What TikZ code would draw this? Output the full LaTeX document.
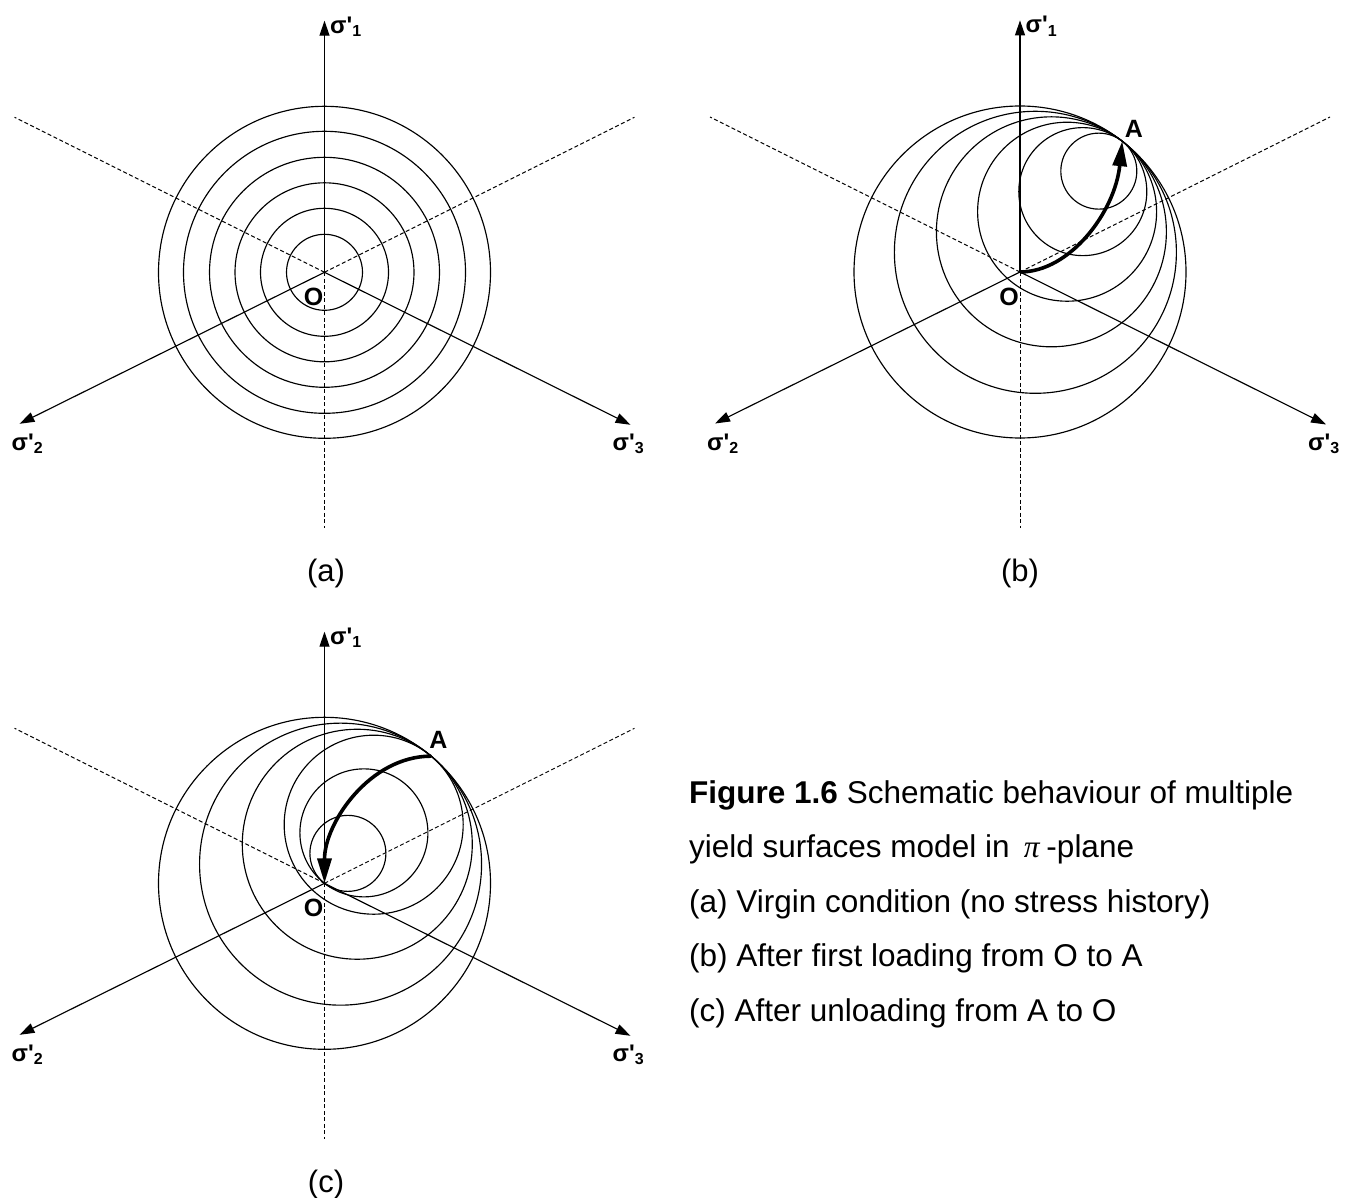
\documentclass[tikz,border=0pt]{standalone}
\usepackage{fontspec}
\newfontfamily\arialf{Liberation Sans}
\newfontfamily\timesf{Liberation Serif}
\usetikzlibrary{arrows.meta}
\newcommand\stressaxes[1]{%
  \coordinate (O#1) at (0,0);
  \coordinate (T1#1) at (0,-251.6);
  \coordinate (T2#1) at (-305,151.5);
  \coordinate (T3#1) at (306,152.5);
  \coordinate (D0#1) at (0,256);
  \coordinate (DL#1) at (-310,-155);
  \coordinate (DR#1) at (310,-155);
  \draw[dashline] (O#1) -- (D0#1);
  \draw[dashline] (O#1) -- (DL#1);
  \draw[dashline] (O#1) -- (DR#1);
  \draw[axisarrow] (O#1) -- (T1#1);
  \draw[axisarrow] (O#1) -- (T2#1);
  \draw[axisarrow] (O#1) -- (T3#1);
  \node[siglabel] (S1#1) at (5.5,-239) {σ'\raisebox{-3.5pt}{\fontsize{16}{16}\selectfont 1}};
  \node[siglabel] (S2#1) at (-313,178) {σ'\raisebox{-3.5pt}{\fontsize{16}{16}\selectfont 2}};
  \node[siglabel] (S3#1) at (288,178) {σ'\raisebox{-3.5pt}{\fontsize{16}{16}\selectfont 3}};
  \node[ptlabel] (LO#1) at (-11,25) {O};
}
\begin{document}
\begin{tikzpicture}[x=1pt,y=-1pt,
  ring/.style={line width=1.15pt},
  dashline/.style={line width=1pt, dash pattern=on 4pt off 2.5pt},
  axisarrow/.style={line width=1.15pt,-{Triangle[length=15pt,width=10pt]}},
  patharrow/.style={line width=3.6pt,-{Triangle[length=25pt,width=14pt]}},
  siglabel/.style={inner sep=0pt, anchor=base west, font=\fontsize{24}{24}\selectfont\arialf\bfseries},
  ptlabel/.style={inner sep=0pt, font=\fontsize{25}{25}\selectfont\arialf\bfseries},
  panellabel/.style={inner sep=0pt, font=\fontsize{31}{31}\selectfont\arialf},
  captionline/.style={inner sep=0pt, anchor=base west, font=\fontsize{31.5}{31.5}\selectfont\arialf}]
\path[use as bounding box, fill=white] (0,0) rectangle (1348,1198);

% ---------- panel (a) ----------
\begin{scope}[shift={(324.5,272.3)}]
  \foreach \r in {38,64,89.5,115,141,166} \draw[ring] (0,0) circle[radius=\r];
  \stressaxes{a}
\end{scope}
\node[panellabel] (La) at (326,573) {(a)};

% ---------- panel (b) ----------
\begin{scope}[shift={(1020,272)}]
  \foreach \r in {38,64,89.5,115,141,166} \draw[ring] (-52:166-\r) circle[radius=\r];
  \stressaxes{b}
  \coordinate (Ab) at (-52:166);
  \node[ptlabel] (LAb) at (114,-143) {A};
  \draw[patharrow] (Ob) .. controls (50,0) and (95,-60) .. (Ab);
\end{scope}
\node[panellabel] (Lb) at (1020,573) {(b)};

% ---------- panel (c) ----------
\begin{scope}[shift={(324.5,883.3)}]
  \foreach \r in {89.5,115,141,166} \draw[ring] (-50:166-\r) circle[radius=\r];
  \foreach \r in {38,64} \draw[ring] (-52:\r) circle[radius=\r];
  \stressaxes{c}
  \coordinate (Ac) at (-50:166);
  \node[ptlabel] (LAc) at (114,-143) {A};
  \draw[patharrow] (Ac) .. controls (45,-127.2) and (0,-60) .. (Oc);
\end{scope}
\node[panellabel] (Lc) at (326,1184) {(c)};

% ---------- caption ----------
\node[captionline] (C1) at (689,803) {\bfseries Figure 1.6\mdseries\ Schematic behaviour of multiple};
\node[captionline] (C2) at (689,857.5) {yield surfaces model in\hspace{0.45em}{\timesf\itshape π}\hspace{0.22em}-plane};
\node[captionline] (C3) at (689,912) {(a) Virgin condition (no stress history)};
\node[captionline] (C4) at (689,966.5) {(b) After first loading from O to A};
\node[captionline] (C5) at (689,1021) {(c) After unloading from A to O};
\end{tikzpicture}
\end{document}
